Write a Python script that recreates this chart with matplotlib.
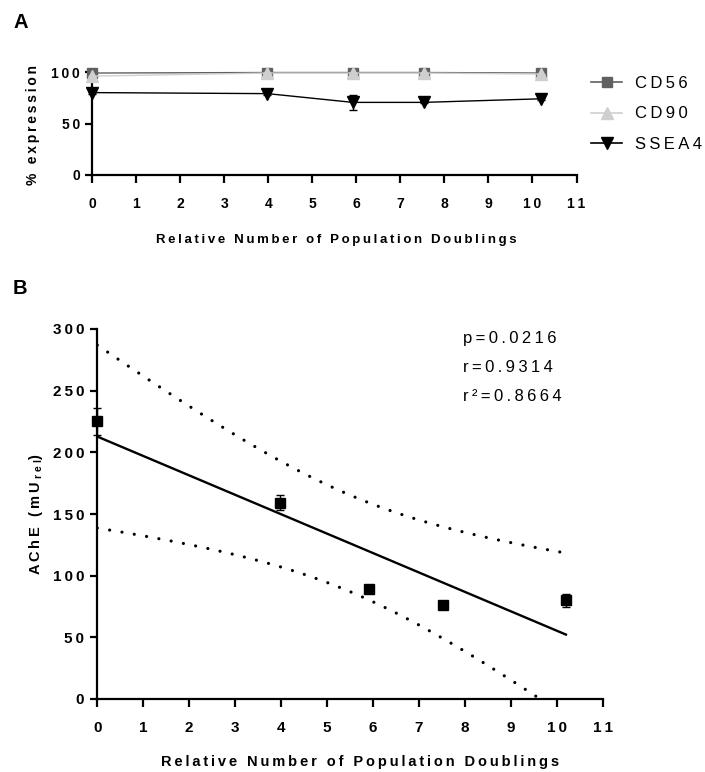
import numpy as np
import matplotlib
matplotlib.use("Agg")
import matplotlib.pyplot as plt
from matplotlib.lines import Line2D

plt.rcParams['font.family'] = ['Liberation Sans', 'DejaVu Sans']
plt.rcParams['mathtext.fontset'] = 'custom'
plt.rcParams['mathtext.rm'] = 'Liberation Sans'
plt.rcParams['mathtext.bf'] = 'Liberation Sans:bold'

# ---------------- Data ----------------
doublings = [0, 3.98, 5.92, 7.53, 10.2]

cd56 = [99, 99.5, 99.5, 99.5, 99]
cd56_err = [0.5, 0.3, 0.3, 0.3, 0.5]
cd90 = [96, 99, 99, 99, 98]
cd90_err = [0.5, 0.3, 0.3, 0.3, 0.5]
ssea4 = [80, 79, 70.5, 70.5, 74]
ssea4_err = [1.0, 1.0, 7.5, 1.0, 1.0]

ache = [225, 159, 89, 76, 80]
ache_err = [11, 6, 2, 2, 5]

series_names = ["CD56", "CD90", "SSEA4"]
stats_text = ["p=0.0216", "r=0.9314", "r\u00b2=0.8664"]
x_ticks = list(range(0, 12))
ya_ticks = [0, 50, 100]
yb_ticks = [0, 50, 100, 150, 200, 250, 300]
x_title = "Relative Number of Population Doublings"
t_crit = 3.182446  # t(0.975, df=3)

THIN = '\u2009'


def sp(s):
    return THIN.join(s)


W, H = 705, 772
fig = plt.figure(figsize=(W / 100, H / 100), dpi=100)


def style_axes(ax, xpad, ypad):
    for s in ['top', 'right']:
        ax.spines[s].set_visible(False)
    for s in ['left', 'bottom']:
        ax.spines[s].set_linewidth(1.6)
    ax.tick_params(axis='x', direction='out', length=5.5, width=1.6, pad=xpad)
    ax.tick_params(axis='y', direction='out', length=5, width=1.6, pad=ypad)


# ---------------- Panel A ----------------
axA = fig.add_axes([92.3 / W, 1 - 175 / H, (576.5 - 92.3) / W, (175 - 72) / H])
axA.errorbar(doublings, cd56, yerr=cd56_err, color='#606060', marker='s', ms=7,
             lw=1.0, capsize=3, clip_on=False, zorder=3)
axA.errorbar(doublings, cd90, yerr=cd90_err, color='#cfcfcf', marker='^', ms=8,
             lw=1.0, capsize=3, clip_on=False, zorder=4)
axA.errorbar(doublings, ssea4, yerr=ssea4_err, color='black', marker='v', ms=8,
             lw=1.0, capsize=3, clip_on=False, zorder=5)
axA.set_xlim(0, 11)
axA.set_ylim(0, 100)
axA.set_xticks(x_ticks)
axA.set_xticklabels([sp(str(v)) for v in x_ticks], fontsize=10, fontweight='bold')
axA.set_yticks(ya_ticks)
axA.set_yticklabels([sp(str(v)) for v in ya_ticks], fontsize=10, fontweight='bold')
style_axes(axA, 10, 4)
axA.set_xlabel(sp(x_title), fontsize=9.5, fontweight='bold')
axA.xaxis.set_label_coords((336 - 92.3) / 484.2, (175 - 240) / 103)
axA.xaxis.label.set_va('center')
axA.set_ylabel(sp("% expression"), fontsize=10, fontweight='bold')
axA.yaxis.set_label_coords((33 - 92.3) / 484.2, (175 - 125) / 103)
axA.yaxis.label.set_va('center')

handles = [
    Line2D([0], [0], color='#606060', marker='s', ms=7, lw=1.2),
    Line2D([0], [0], color='#cfcfcf', marker='^', ms=8, lw=1.2),
    Line2D([0], [0], color='black', marker='v', ms=8, lw=1.2),
]
fig.legend(handles, [sp(n) for n in series_names], loc='upper left',
           bbox_to_anchor=(584 / W, 1 - 69 / H), frameon=False, fontsize=12,
           handlelength=1.9, labelspacing=0.95, handletextpad=0.75,
           borderaxespad=0)

# ---------------- Panel B ----------------
axB = fig.add_axes([97.3 / W, 1 - 699 / H, (602.7 - 97.3) / W, 370 / H])
x = np.array(doublings, dtype=float)
y = np.array(ache, dtype=float)
slope, intercept = np.polyfit(x, y, 1)
n = len(x)
resid = y - (slope * x + intercept)
s = np.sqrt(np.sum(resid ** 2) / (n - 2))
sxx = np.sum((x - x.mean()) ** 2)
xf = np.linspace(x.min(), x.max(), 300)
yf = slope * xf + intercept
half = t_crit * s * np.sqrt(1.0 / n + (xf - x.mean()) ** 2 / sxx)

axB.plot(xf, yf, color='black', lw=1.7)
dot = (0, (0.01, 3.9))
axB.plot(xf, yf + half, color='black', lw=2.3, linestyle=dot,
         dash_capstyle='round')
axB.plot(xf, yf - half, color='black', lw=2.3, linestyle=dot,
         dash_capstyle='round')
axB.errorbar(doublings, ache, yerr=ache_err, fmt='s', color='black', ms=6.5,
             capsize=3, elinewidth=1.0, capthick=1.0, clip_on=False, zorder=5)
axB.set_xlim(0, 11)
axB.set_ylim(0, 300)
axB.set_xticks(x_ticks)
axB.set_xticklabels([sp(str(v)) for v in x_ticks], fontsize=11, fontweight='bold')
axB.set_yticks(yb_ticks)
axB.set_yticklabels([sp(str(v)) for v in yb_ticks], fontsize=11, fontweight='bold')
style_axes(axB, 10, 4.5)
axB.set_xlabel(sp(x_title), fontsize=10.5, fontweight='bold')
axB.xaxis.set_label_coords((360 - 97.3) / 505.4, (699 - 762) / 370)
axB.xaxis.label.set_va('center')
axB.set_ylabel(sp("AChE (mU") + r"$_{\mathregular{\ r\ e\ l}}$" + sp(")"),
               fontsize=10.5, fontweight='bold')
axB.yaxis.set_label_coords((36 - 97.3) / 505.4, (699 - 514) / 370)
axB.yaxis.label.set_va('center')

for i, t in enumerate(stats_text):
    fig.text(463 / W, 1 - (338 + i * 29) / H, sp(t), fontsize=12,
             va='center', ha='left')

fig.text(13 / W, 1 - 22 / H, "A", fontsize=14.5, fontweight='bold', va='center')
fig.text(13 / W, 1 - 288 / H, "B", fontsize=14.5, fontweight='bold', va='center')

fig.savefig("out.png", dpi=100)
